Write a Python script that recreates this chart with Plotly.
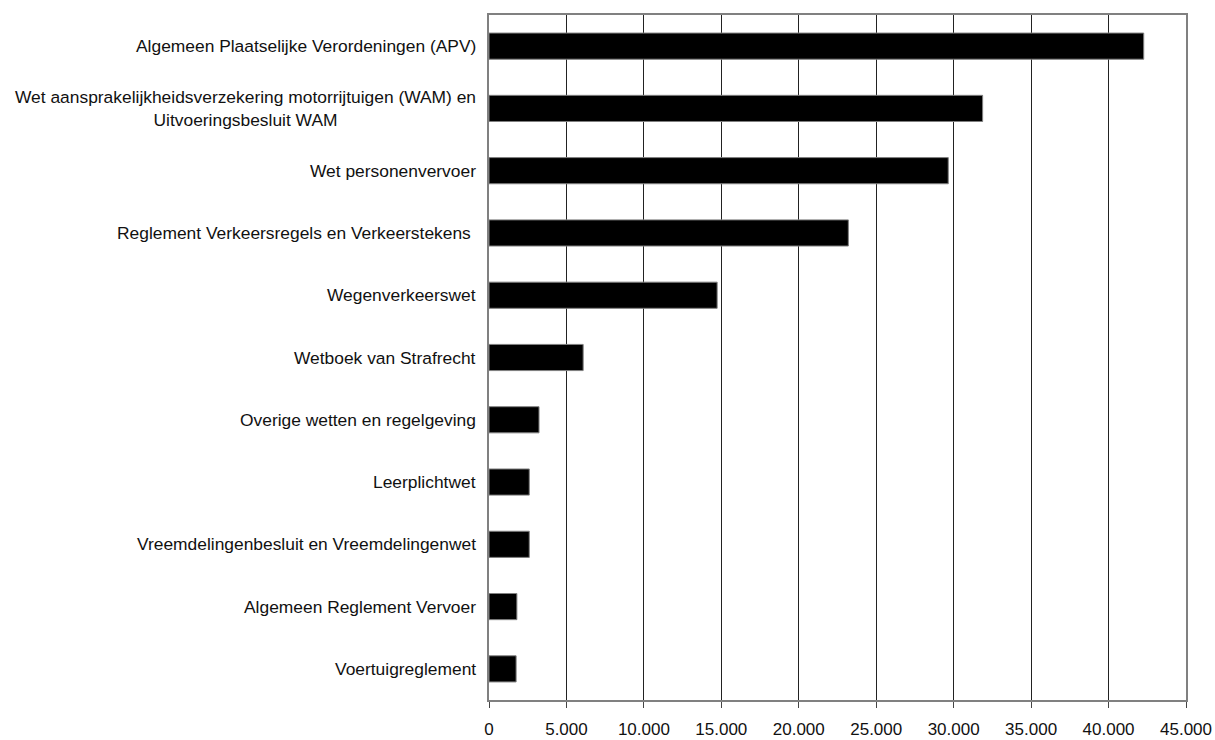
import plotly.graph_objects as go

categories = [
    "Algemeen Plaatselijke Verordeningen (APV)",
    "Wet aansprakelijkheidsverzekering motorrijtuigen (WAM) en<br>Uitvoeringsbesluit WAM",
    "Wet personenvervoer",
    "Reglement Verkeersregels en Verkeerstekens ",
    "Wegenverkeerswet",
    "Wetboek van Strafrecht",
    "Overige wetten en regelgeving",
    "Leerplichtwet",
    "Vreemdelingenbesluit en Vreemdelingenwet",
    "Algemeen Reglement Vervoer",
    "Voertuigreglement",
]
values = [42270, 31870, 29650, 23200, 14730, 6080, 3230, 2600, 2600, 1800, 1750]
tick_vals = [0, 5000, 10000, 15000, 20000, 25000, 30000, 35000, 40000, 45000]
tick_text = ["0", "5.000", "10.000", "15.000", "20.000", "25.000", "30.000", "35.000", "40.000", "45.000"]

font_family = "Liberation Sans, Arial, sans-serif"

fig = go.Figure()
fig.add_trace(go.Bar(
    x=values,
    y=categories,
    orientation="h",
    marker=dict(color="#000000", line=dict(color="#808080", width=1)),
    hoverinfo="x+y",
))

annotations = []
for c in categories:
    annotations.append(dict(
        x=0, xref="paper", y=c, yref="y",
        text=c, showarrow=False, xanchor="right", yanchor="middle",
        align="center", xshift=-11,
        font=dict(family=font_family, size=17.4, color="#111111"),
    ))

fig.update_layout(
    width=1215, height=740,
    margin=dict(l=489, r=29, t=15, b=40, autoexpand=False),
    paper_bgcolor="white", plot_bgcolor="white",
    bargap=0.58,
    showlegend=False,
    annotations=annotations,
    font=dict(family=font_family, size=17, color="#111111"),
    xaxis=dict(
        range=[0, 45000],
        tickmode="array", tickvals=tick_vals, ticktext=tick_text,
        showgrid=True, gridcolor="#222222", gridwidth=1,
        showline=True, linecolor="#808080", linewidth=2, mirror=True,
        ticks="outside", ticklen=6, tickcolor="#444444", tickwidth=1,
        ticklabelstandoff=7,
        zeroline=False,
        tickfont=dict(family=font_family, size=17, color="#111111"),
        automargin=False,
    ),
    yaxis=dict(
        autorange="reversed",
        showticklabels=False,
        showgrid=False,
        showline=True, linecolor="#808080", linewidth=2, mirror=True,
        ticks="",
        automargin=False,
    ),
)

fig.write_html(
    "out.html",
    config={"displayModeBar": False},
    post_script="document.body.style.margin='0';document.body.style.overflow='hidden';",
)
